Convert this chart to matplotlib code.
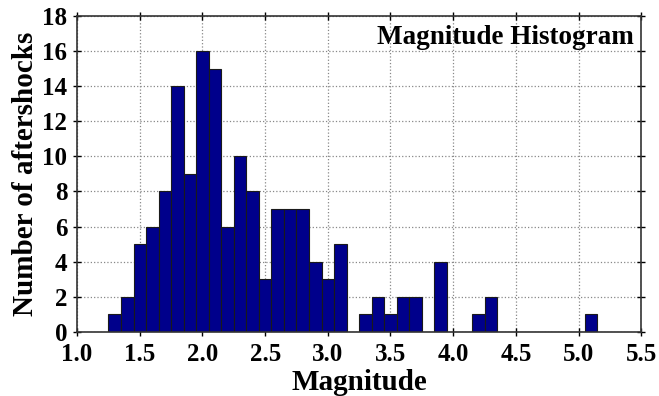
import numpy as np
import matplotlib
matplotlib.use("Agg")
import matplotlib.pyplot as plt

# histogram bins (centres, width 0.1) and counts
mag_centres = [1.3, 1.4, 1.5, 1.6, 1.7, 1.8, 1.9, 2.0, 2.1, 2.2,
               2.3, 2.4, 2.5, 2.6, 2.7, 2.8, 2.9, 3.0, 3.1, 3.2,
               3.3, 3.4, 3.5, 3.6, 3.7, 3.8, 3.9, 4.0, 4.1, 4.2,
               4.3, 4.4, 4.5, 4.6, 4.7, 4.8, 4.9, 5.0, 5.1]
counts = [1, 2, 5, 6, 8, 14, 9, 16, 15, 6,
          10, 8, 3, 7, 7, 7, 4, 3, 5, 0,
          1, 2, 1, 2, 2, 0, 4, 0, 0, 1,
          2, 0, 0, 0, 0, 0, 0, 0, 1]
xticks = [1.0, 1.5, 2.0, 2.5, 3.0, 3.5, 4.0, 4.5, 5.0, 5.5]
yticks = list(range(0, 19, 2))

plt.rcParams['font.family'] = ['Liberation Serif', 'DejaVu Serif']
plt.rcParams['font.weight'] = 'bold'

fig = plt.figure(figsize=(6.59, 3.96), dpi=100)
ax = fig.add_axes([0.117, 0.162, 0.856, 0.798])

ax.bar(mag_centres, counts, width=0.1, color='#00008B', edgecolor='#1a1a1a',
       linewidth=0.8, zorder=2)

ax.set_xlim(1.0, 5.5)
ax.set_ylim(0, 18)
ax.set_xticks(xticks)
ax.set_xticklabels(['%.1f' % v for v in xticks])
ax.set_yticks(yticks)
ax.grid(True, linestyle=':', color='#888888', linewidth=0.9, zorder=0)
ax.set_axisbelow(True)

ax.tick_params(direction='inout', length=6, width=1, labelsize=18,
               top=True, right=True)
ax.tick_params(axis='x', pad=5)
ax.tick_params(axis='y', pad=4)
for s in ax.spines.values():
    s.set_linewidth(1.2)
    s.set_color('#333333')

ax.set_xlabel('Magnitude', fontsize=21, fontweight='bold', labelpad=2)
ax.set_ylabel('Number of aftershocks', fontsize=21, fontweight='bold', labelpad=2)
ax.text(0.987, 0.972, 'Magnitude Histogram', transform=ax.transAxes,
        ha='right', va='top', fontsize=19.5, fontweight='bold')

fig.savefig('out.png', dpi=100)
